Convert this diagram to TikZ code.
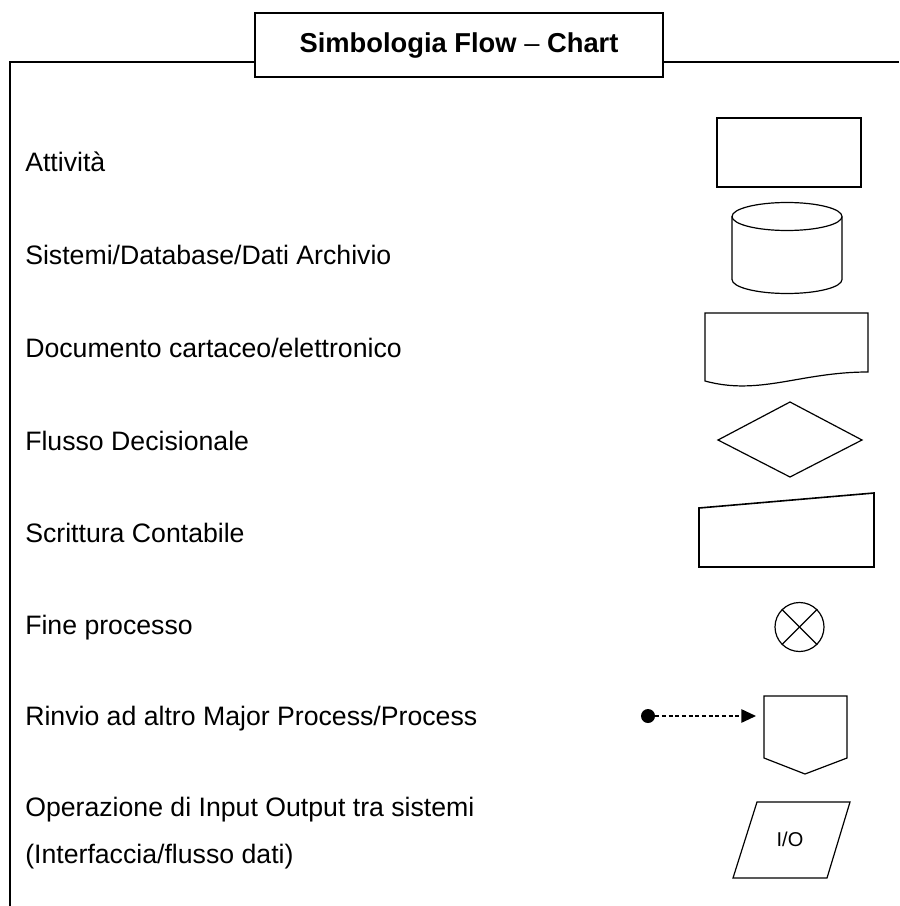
\documentclass[tikz,border=0pt]{standalone}
\usepackage{fontspec}
\setmainfont{Liberation Sans}
\usetikzlibrary{arrows.meta}
\begin{document}
\begin{tikzpicture}[x=0.75pt,y=-0.75pt,
  frame/.style={line width=1.5pt},
  symbol/.style={line width=0.9pt, line join=miter},
  label/.style={anchor=base west, inner sep=0pt, font=\fontsize{20}{24}\selectfont},
  titlebox/.style={draw, line width=1.5pt, minimum width=306pt, minimum height=48pt, inner sep=0pt, font=\bfseries\fontsize{20.5}{24}\selectfont, fill=white}]
\useasboundingbox (0,0) rectangle (899,906);

% frame and title
\coordinate (fbot) at (10,906);
\coordinate (ftop) at (10,62);
\coordinate (fright) at (899,62);
\node[titlebox] (title) at (459,45) {Simbologia Flow \textmd{--} Chart};
\draw[frame] (fbot) -- (ftop) -- (ftop -| title.west);
\draw[frame] (title.east |- fright) -- (fright);

% labels
\node[label] (l1) at (25,171) {Attività};
\node[label] (l2) at (25,264) {Sistemi/Database/Dati Archivio};
\node[label] (l3) at (25,357) {Documento cartaceo/elettronico};
\node[label] (l4) at (25,450) {Flusso Decisionale};
\node[label] (l5) at (25,542) {Scrittura Contabile};
\node[label] (l6) at (25,634) {Fine processo};
\node[label] (l7) at (25,725) {Rinvio ad altro Major Process/Process};
\node[label] (l8) at (25,816) {Operazione di Input Output tra sistemi};
\node[label] (l9) at (25,863) {(Interfaccia/flusso dati)};

% activity
\draw[symbol] (717,118) rectangle (861,187);

% database cylinder
\draw[symbol] (787,216.5) ellipse [x radius=55, y radius=14];
\draw[symbol] (732,216.5) -- (732,279.5) arc[start angle=180, end angle=0, x radius=55, y radius=14] -- (842,216.5);

% document
\draw[symbol] (705,381) -- (705,313) -- (868,313) -- (868,372)
  .. controls (800,372) and (760,396) .. (705,381) -- cycle;

% decision
\draw[symbol] (790,402) -- (862,440) -- (790,477) -- (718,440) -- cycle;

% manual input
\draw[line width=1.2pt, line join=miter] (699,508) -- (874,493) -- (874,567) -- (699,567) -- cycle;

% end of process
\node[draw, circle, line width=0.9pt, minimum size=36.75pt, inner sep=0pt] (stop) at (799.5,627) {};
\draw[symbol] (stop.north west) -- (stop.south east);
\draw[symbol] (stop.north east) -- (stop.south west);

% off-page reference
\draw[symbol] (764,696) -- (847,696) -- (847,758) -- (805,774) -- (764,758) -- cycle;
\coordinate (offin) at (756,716);
\node[circle, fill=black, minimum size=10.5pt, inner sep=0pt] (dot) at (648,716) {};
\draw[line width=1.3pt, dash pattern=on 3pt off 2pt, -{Triangle[length=11pt, width=10pt]}] (dot) -- (offin);

% input/output
\draw[symbol] (757,802) -- (850,802) -- (827,878) -- (733,878) -- cycle;
\node[font=\fontsize{15}{18}\selectfont] (io) at (790,839) {I/O};
\end{tikzpicture}
\end{document}
